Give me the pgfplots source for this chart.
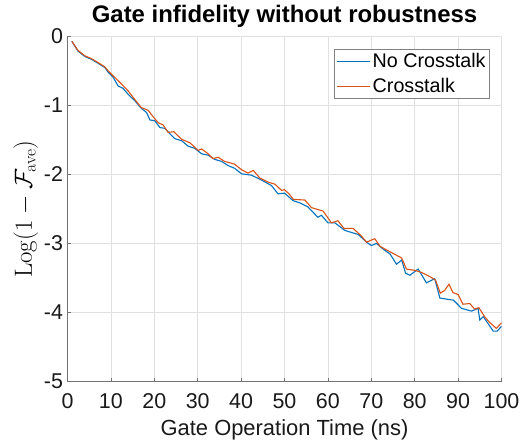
\documentclass[border=0pt]{standalone}
\usepackage{pgfplots}
\pgfplotsset{compat=1.18}
\usepackage[no-math]{fontspec}
\setmainfont{Liberation Sans}
\definecolor{mblue}{rgb}{0,0.447,0.741}
\definecolor{morange}{rgb}{0.85,0.325,0.098}
\begin{document}
\begin{tikzpicture}
\begin{axis}[
  scale only axis, width=434bp, height=345bp,
  xmin=0, xmax=100, ymin=-5, ymax=0,
  xtick={0,10,...,100}, ytick={-5,-4,-3,-2,-1,0},
  axis lines*=left,
  grid=major, major grid style={color=black!12, line width=0.5bp},
  tick align=inside, major tick length=4bp,
  tick style={color=black!55, line width=0.6bp},
  axis line style={color=black!55, line width=0.8bp},
  tick label style={font=\fontsize{21.5}{21.5}\selectfont, color=black!90},
  xticklabel style={yshift=-9bp},
  yticklabel style={xshift=-1bp},
  /pgf/number format/assume math mode=true,
  xlabel={Gate Operation Time (ns)},
  xlabel style={font=\fontsize{22}{22}\selectfont, color=black!90, yshift=-4bp},
  ylabel={$\mathrm{Log}(1-\mathcal{F}_{\mathrm{ave}})$},
  ylabel style={font=\fontsize{24}{24}\selectfont, yshift=-1bp},
  title={Gate infidelity without robustness},
  title style={font=\fontsize{24}{24}\selectfont\bfseries},
  legend style={at={(0.973,0.963)}, anchor=north east, font=\fontsize{19.8}{19.8}\selectfont, draw=black!50, inner sep=2bp, row sep=5bp},
  legend cell align=left,
  legend image code/.code={\draw[#1] (0bp,0bp) -- (33bp,0bp);},
  every axis plot/.append style={line width=1.1bp},
]
\addplot[color=mblue] coordinates {
(1,-0.07) (2.4,-0.21) (4,-0.29) (5.5,-0.33) (7.1,-0.39) (8.6,-0.45) (9.4,-0.52) (10.5,-0.59) (11.7,-0.72) (12.8,-0.75) (14,-0.84) (15.5,-0.93) (17,-1.04) (18.2,-1.10) (19,-1.21) (20.1,-1.22) (21.3,-1.32) (22.4,-1.33) (23.6,-1.41) (24.7,-1.48) (26.3,-1.51) (27.8,-1.59) (29.3,-1.62) (30.9,-1.70) (32.4,-1.72) (33.9,-1.78) (35.5,-1.81) (37,-1.87) (38.5,-1.91) (40.1,-1.99) (42.4,-2.01) (44.7,-2.08) (47,-2.16) (48.5,-2.28) (50,-2.27) (52,-2.38) (53.5,-2.41) (55.4,-2.47) (57.7,-2.62) (58.5,-2.59) (60,-2.70) (61.6,-2.70) (63.9,-2.81) (67,-2.87) (68.9,-2.98) (70,-3.03) (71.2,-3.00) (73.1,-3.10) (74.3,-3.15) (75.8,-3.30) (77,-3.24) (77.9,-3.43) (78.9,-3.46) (80.8,-3.37) (82.7,-3.57) (84.6,-3.51) (85.8,-3.79) (87.7,-3.81) (88.9,-3.82) (90.8,-3.94) (93.1,-3.98) (94.6,-3.94) (95,-4.11) (95.8,-4.06) (98.1,-4.27) (99,-4.27) (100,-4.20)
};
\addlegendentry{No Crosstalk}
\addplot[color=morange] coordinates {
(1,-0.07) (2.4,-0.20) (4,-0.28) (5.5,-0.32) (7.1,-0.38) (8.6,-0.44) (9.4,-0.50) (10.5,-0.57) (12,-0.66) (14,-0.79) (15.1,-0.88) (17,-1.03) (18.6,-1.07) (19.7,-1.16) (20.9,-1.25) (22,-1.28) (23.2,-1.39) (24.5,-1.38) (26.3,-1.49) (28.2,-1.54) (30.1,-1.65) (30.9,-1.63) (32.4,-1.70) (33.5,-1.77) (34.7,-1.75) (36.2,-1.81) (38.5,-1.85) (40.1,-1.93) (41.6,-1.98) (42.8,-1.94) (44.3,-2.05) (46.2,-2.11) (47.8,-2.14) (49.3,-2.23) (50,-2.22) (51.2,-2.29) (52,-2.36) (54.7,-2.37) (56.2,-2.48) (58.9,-2.53) (60.8,-2.70) (62.3,-2.67) (63.7,-2.78) (65.8,-2.78) (67.7,-2.89) (68.9,-2.98) (70.8,-2.93) (72,-3.04) (74.3,-3.12) (77,-3.21) (78.1,-3.37) (80.1,-3.39) (81.6,-3.42) (83.5,-3.48) (84.8,-3.53) (85.9,-3.72) (86.9,-3.68) (87.9,-3.59) (88.8,-3.71) (90,-3.74) (91.1,-3.88) (92.7,-3.87) (93.8,-3.95) (94.8,-3.93) (96.1,-4.06) (97.2,-4.14) (98.8,-4.23) (100,-4.15)
};
\addlegendentry{Crosstalk}
\coordinate (O) at (rel axis cs:0,0);
\end{axis}
\path ([shift={(-67.5bp,-55.5bp)}]O) rectangle ++(527bp,437bp);
\end{tikzpicture}
\end{document}
